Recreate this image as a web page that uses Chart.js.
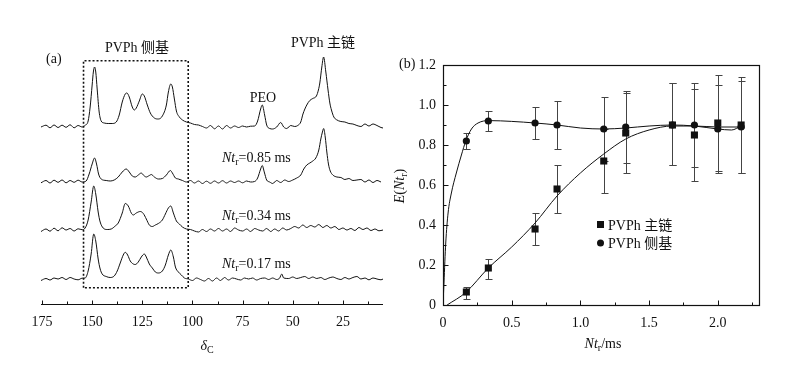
<!DOCTYPE html>
<html>
<head>
<meta charset="utf-8">
<script src="https://cdn.jsdelivr.net/npm/chart.js@4.4.0/dist/chart.umd.min.js"></script>
<style>
  html, body { margin: 0; padding: 0; background: #fff; }
  #wrap { position: relative; width: 804px; height: 373px; overflow: hidden; }
  #specChart { position: absolute; left: 0; top: 0; }
  #effChart { position: absolute; left: 390px; top: 0; }
</style>
</head>
<body>
<div id="wrap">
  <canvas id="specChart" width="390" height="373"></canvas>
  <canvas id="effChart" width="414" height="373"></canvas>
</div>
<script>
// ---- panel (a): 13C spectra, [ppm, intensity above baseline] ----
const specFull = [
  [175.5,0],[173,1.8],[171,-0.8],[169,2],[167,-0.5],[165,1.8],[163,-0.3],[161,2.2],[159,-0.8],[157,1.5],[155,0],
  [153.5,1.7],[152,6],[151,20],[150,42],[149.4,55],[148.8,60],[148.2,55],[147.5,38],[146.5,15],[145.5,6],[144,4],
  [142,3.5],[140,3.5],[138,5],[136.5,12],[135,25],[133.5,33],[132.7,34],[131.5,30],[130,20],[129,17],[128,19],
  [126.5,26],[125,33],[124,31],[122.5,22],[121,14],[119,9],[117,8],[115,11],[113,22],[112,35],[110.8,43],[110,40],
  [109,28],[108,16],[106.5,10],[105,7],[103,5],[101,4],[99,2.5],[97,2],[95,0.5],[93,-1],[91,1.5],[89,-1.8],
  [87,1],[85,-2],[83,1.5],[81,-1],[79,1],[77,-0.5],[75,1],[73,0],[71,0.8],[69,1],[67.5,6],[66,18],
  [65.2,22],[64,12],[63,2],[61.5,-1.5],[60,-2],[58,0],[56,4.5],[54.5,0],[53,-1.5],[51,1.5],[49,0.5],[47.5,1.5],[46,5],
  [44.9,13],[43,22],[41.5,26.5],[40,28.5],[38.2,31],[37.2,37],[36.5,44],[35.5,60],[34.6,70],[33.5,55],[32.4,37],
  [31.5,24],[30.7,17],[29.5,10],[28.2,7.3],[26,5.5],[24,5],[22,3.5],[20,3],[18,1.5],[16,0.5],[14,3],[12,1],
  [10,3],[8,1.5],[6,-0.5],[5,-1]
];
const spec085 = [
  [175.5,-0.8],[173,1.5],[171,-1],[169,1.8],[167,-0.3],[165,2],[163,-0.8],[161,1.5],[159,-0.3],[157,1.8],[155,0],
  [153,1],[151.5,8],[150,18],[148.8,24],[147.8,18],[146.8,8],[145.5,3],[143,1.5],[141,1],[139,2],[137,5],
  [135,10],[133,13],[131.5,10],[130,6],[128.5,5],[127,7],[125.5,9],[124.5,7],[123,5],[121.5,6.5],[120.5,7.5],
  [119,5],[117,3],[115,3.5],[113,7],[111,11.5],[110,9],[108.5,4],[107,3],[105,1.5],[103,0],[101,1.5],[99,-1],
  [97,1],[95,-1.5],[93,0.8],[91,-1.3],[89,1],[87,-1],[85,1.3],[83,-1],[81,1],[79,-0.5],[77,1],[75,-0.8],
  [73,1],[71,0],[69,0.5],[67.5,4],[66,13],[65.2,16.5],[64.2,10],[63,2],[61.5,0],[60,-1.5],[58,1.5],[56,-0.5],
  [54,2],[52,0.5],[50,2],[48,4],[46,7],[44.5,13],[43,17],[41.5,19],[40,21],[38.5,24],[37,32],[36,43],
  [35.2,50],[34.6,53.5],[33.8,45],[33,30],[32.2,18],[31.3,11],[30,7],[28,5],[26,4.5],[24,2.5],[22,3.5],[20,1.5],
  [18,2],[16,2.5],[14,0],[12,2],[10,-0.5],[8,1.5],[6,0]
];
const spec034 = [
  [175.5,-1.5],[173,1],[171,-1.2],[169,1.8],[167,-0.8],[165,2.2],[163,0],[161,1.5],[159,-1],[157,1.2],[155,0.3],
  [153.5,2],[152,10],[150.5,28],[149.2,44],[148.2,36],[147,18],[146,8],[144.5,2],[142.5,0.5],[140.5,1],
  [138.5,4],[137,7],[135,17],[133.5,26.5],[132,24],[130.5,17],[129.5,15],[128,17],[126,18.5],[124.5,16.5],
  [123,11],[121.5,5],[120,3.5],[118.5,5],[117,6.5],[115,10],[113.5,16],[112,22],[110.8,24],[109.5,17],[108,9],
  [106.5,6],[105,3],[103,1],[101,0.5],[99,-1],[97,-2],[95,0.5],[93,-1.5],[91,1],[89,-1],[87,1.5],[85,-1],
  [83,1],[81,-1.5],[79,2],[77,0],[75,-1],[73,1],[71,-1.5],[69,1.5],[67,0],[65,-1],[63,1.5],[61,-1.5],[59,1],
  [57,-1],[55,2],[53,0],[51,1.5],[49,3.5],[47,2],[45,5],[43,2.5],[41,4.5],[39,3],[37,5.5],[35,2.5],[33,4.5],[31,2],
  [29,3.5],[27,0.5],[25,2],[23,0],[21,1.5],[19,-0.5],[17,2.5],[15,0.5],[13,2],[11,-0.5],[9,1],[7,-0.8],[5,0]
];
const spec017 = [
  [175.5,-1.5],[173,0.5],[171,-1],[169,1],[167,0],[165,1.5],[163,-0.5],[161,1.5],[159,0],[157,-0.8],[155,0.8],
  [153.5,1],[152,8],[150.5,25],[149.2,45],[148.2,38],[147,20],[146,10],[145,5],[143,2.5],[141,1.5],[139,3],
  [137.5,8],[136,16],[134.5,24],[133.5,26.7],[132.3,24],[131,18],[129.5,15],[128.5,14.5],[127,17],[125.5,22],
  [124,25],[123,22],[121.5,15],[120,11],[118.5,7],[117,6],[115,8],[113.5,14],[112,24],[110.8,29],[109.5,22],
  [108.5,12],[107,7],[105.5,4],[104,1],[102,0],[100,-1.5],[98,1],[96,-0.5],[94,-2],[92,0.5],[90,-2],
  [88,1],[86,-1.5],[84,1.5],[82,-1],[80,1],[78,0],[76,-1],[74,1],[72,0],[70,1],[68,-1],[66,0.5],
  [64,1],[62,-0.5],[60,1],[58,-0.5],[56.5,1],[55.5,5],[54.5,1],[52,0.5],[50,2],[48,0.5],[46,1.5],[44,2.5],
  [42,0.5],[40,2],[38,0.5],[36,1.5],[34,-0.5],[32,1],[30,2],[28,0.5],[26,-0.5],[24,1.5],[22,0],[20,1.5],
  [18,2.5],[16,0],[14,1],[12,-0.8],[10,1],[8,0],[6,-0.8],[5,0]
];
const specTraces = [specFull, spec085, spec034, spec017];
const traceOffsets = [177, 122, 74, 25];
const ppmTicks = [175, 150, 125, 100, 75, 50, 25];
const ppmMinor = [162.5, 137.5, 112.5, 87.5, 62.5, 37.5, 12.5];
const boxPpm = [154.3, 102.1];
const boxLevels = [16.3, 243.3];

// ---- panel (b): E(Ntr) ----
const ntr = [0.17, 0.33, 0.67, 0.83, 1.17, 1.33, 1.67, 1.83, 2.0, 2.17];
const mainE = [0.065, 0.185, 0.38, 0.58, 0.72, 0.86, 0.90, 0.85, 0.91, 0.90];
const mainLo = [0.03, 0.13, 0.30, 0.46, 0.56, 0.66, 0.70, 0.62, 0.67, 0.66];
const mainHi = [0.09, 0.23, 0.46, 0.70, 0.88, 1.06, 1.11, 1.08, 1.15, 1.14];
const sideE = [0.82, 0.92, 0.91, 0.90, 0.88, 0.89, 0.90, 0.90, 0.88, 0.89];
const sideLo = [0.78, 0.87, 0.83, 0.78, 0.72, 0.71, 0.70, 0.69, 0.66, 0.66];
const sideHi = [0.86, 0.97, 0.99, 1.02, 1.04, 1.07, 1.11, 1.11, 1.10, 1.12];
const mainFitX = [0.03, 0.166, 0.33, 0.5, 0.67, 0.83, 1.0, 1.17, 1.33, 1.5, 1.67, 1.83, 2.0, 2.17];
const mainFitY = [0, 0.063, 0.185, 0.29, 0.41, 0.545, 0.66, 0.755, 0.83, 0.875, 0.895, 0.895, 0.89, 0.89];
const sideFitX = [0, 0.007, 0.02, 0.037, 0.061, 0.097, 0.134, 0.166, 0.207, 0.255, 0.335, 0.5, 0.67, 0.83, 1.0, 1.17, 1.33, 1.5, 1.67, 1.83, 2.0, 2.1, 2.17];
const sideFitY = [0, 0.11, 0.31, 0.46, 0.56, 0.66, 0.75, 0.82, 0.88, 0.91, 0.922, 0.918, 0.91, 0.90, 0.885, 0.88, 0.885, 0.895, 0.90, 0.895, 0.88, 0.875, 0.895];
const effXTicks = [0, 0.5, 1.0, 1.5, 2.0];
const effXMinor = [0.25, 0.75, 1.25, 1.75, 2.25];
const effYTicks = [0, 0.2, 0.4, 0.6, 0.8, 1.0, 1.2];
const effYMinor = [0.1, 0.3, 0.5, 0.7, 0.9, 1.1];

const serif = '"Liberation Serif", "Times New Roman", "Noto Sans CJK SC", serif';
Chart.defaults.font.family = serif;
Chart.defaults.font.size = 14;
Chart.defaults.color = '#111';

// draws text made of parts, some italic or subscript
function richText(ctx, parts, x, y, align) {
  const fontOf = p => (p.italic ? 'italic ' : '') + (p.sub ? '10px ' : '14px ') + serif;
  let w = 0;
  parts.forEach(p => { ctx.font = fontOf(p); w += ctx.measureText(p.t).width; });
  let cx = align === 'center' ? x - w / 2 : x;
  ctx.textAlign = 'left';
  ctx.textBaseline = 'alphabetic';
  parts.forEach(p => {
    ctx.font = fontOf(p);
    ctx.fillText(p.t, cx, y + (p.sub ? 3 : 0));
    cx += ctx.measureText(p.t).width;
  });
}

const ntLabel = ms => [{ t: 'Nt', italic: true }, { t: 'r', sub: true }, { t: '=' + ms + ' ms' }];

const specDecor = {
  id: 'specDecor',
  afterDraw(chart) {
    const { ctx, chartArea: a, scales: { x } } = chart;
    ctx.save();
    ctx.strokeStyle = '#111';
    ctx.lineWidth = 1;
    const by = Math.round(a.bottom) + 0.5;
    ctx.beginPath();
    ctx.moveTo(a.left, by); ctx.lineTo(a.right, by);
    ppmTicks.forEach(v => { const p = Math.round(x.getPixelForValue(v)) + 0.5; ctx.moveTo(p, by); ctx.lineTo(p, by - 4); });
    ppmMinor.forEach(v => { const p = Math.round(x.getPixelForValue(v)) + 0.5; ctx.moveTo(p, by); ctx.lineTo(p, by - 3); });
    ctx.stroke();
    ctx.fillStyle = '#111';
    richText(ctx, [{ t: '(a)' }], 46, 63, 'left');
    richText(ctx, [{ t: 'PVPh 侧基' }], 137, 52, 'center');
    richText(ctx, [{ t: 'PVPh 主链' }], 323, 47, 'center');
    richText(ctx, [{ t: 'PEO' }], 263, 102, 'center');
    richText(ctx, ntLabel('0.85'), 222, 162, 'left');
    richText(ctx, ntLabel('0.34'), 222, 220, 'left');
    richText(ctx, ntLabel('0.17'), 222, 268, 'left');
    richText(ctx, [{ t: 'δ', italic: true }, { t: 'C', sub: true }], 207, 350, 'center');
    ctx.restore();
  }
};

const specDatasets = specTraces.map((tr, i) => ({
  data: tr.map(p => ({ x: p[0], y: p[1] + traceOffsets[i] })),
  borderColor: '#111',
  borderWidth: 1,
  pointRadius: 0,
  cubicInterpolationMode: 'monotone'
}));
specDatasets.push({
  data: [
    { x: boxPpm[0], y: boxLevels[0] }, { x: boxPpm[0], y: boxLevels[1] },
    { x: boxPpm[1], y: boxLevels[1] }, { x: boxPpm[1], y: boxLevels[0] },
    { x: boxPpm[0], y: boxLevels[0] }
  ],
  borderColor: '#111',
  borderWidth: 1.6,
  borderDash: [2, 2],
  pointRadius: 0,
  tension: 0
});

new Chart(document.getElementById('specChart'), {
  type: 'line',
  data: { datasets: specDatasets },
  options: {
    responsive: false,
    animation: false,
    devicePixelRatio: 1,
    layout: { padding: { left: 41, right: 7, top: 40, bottom: 0 } },
    plugins: { legend: { display: false }, tooltip: { enabled: false } },
    scales: {
      x: {
        type: 'linear', reverse: true, min: 5, max: 175.5,
        afterBuildTicks: s => { s.ticks = ppmTicks.map(v => ({ value: v })); },
        afterFit: s => { s.height = 69; },
        grid: { display: false, drawTicks: false },
        border: { display: false },
        ticks: { padding: 10, maxRotation: 0, autoSkip: false, color: '#111', font: { size: 14 } }
      },
      y: { display: false, min: 0, max: 264 }
    }
  },
  plugins: [specDecor]
});

// ---- panel (b) chart ----
function errBars(chart, xs, lo, hi) {
  const { ctx, scales: { x, y } } = chart;
  ctx.save();
  ctx.strokeStyle = '#444';
  ctx.lineWidth = 1;
  ctx.beginPath();
  xs.forEach((v, i) => {
    const px = Math.round(x.getPixelForValue(v)) + 0.5;
    const y1 = Math.round(y.getPixelForValue(lo[i])) + 0.5;
    const y2 = Math.round(y.getPixelForValue(hi[i])) + 0.5;
    ctx.moveTo(px, y1); ctx.lineTo(px, y2);
    ctx.moveTo(px - 3, y1); ctx.lineTo(px + 4, y1);
    ctx.moveTo(px - 3, y2); ctx.lineTo(px + 4, y2);
  });
  ctx.stroke();
  ctx.restore();
}

const effDecor = {
  id: 'effDecor',
  beforeDatasetsDraw(chart) {
    errBars(chart, ntr, mainLo, mainHi);
    errBars(chart, ntr, sideLo, sideHi);
  },
  afterDraw(chart) {
    const { ctx, chartArea: a, scales: { x, y } } = chart;
    ctx.save();
    ctx.strokeStyle = '#111';
    ctx.lineWidth = 1.2;
    ctx.strokeRect(Math.round(a.left) + 0.5, Math.round(a.top) + 0.5, Math.round(a.right - a.left), Math.round(a.bottom - a.top));
    ctx.lineWidth = 1;
    ctx.beginPath();
    const bx = Math.round(a.bottom) + 0.5, lx = Math.round(a.left) + 0.5;
    effXTicks.forEach(v => { const p = Math.round(x.getPixelForValue(v)) + 0.5; ctx.moveTo(p, bx); ctx.lineTo(p, bx - 5); });
    effXMinor.forEach(v => { const p = Math.round(x.getPixelForValue(v)) + 0.5; ctx.moveTo(p, bx); ctx.lineTo(p, bx - 3); });
    effYTicks.forEach(v => { const p = Math.round(y.getPixelForValue(v)) + 0.5; ctx.moveTo(lx, p); ctx.lineTo(lx + 5, p); });
    effYMinor.forEach(v => { const p = Math.round(y.getPixelForValue(v)) + 0.5; ctx.moveTo(lx, p); ctx.lineTo(lx + 3, p); });
    ctx.stroke();

    // legend
    ctx.fillStyle = '#111';
    ctx.fillRect(207, 221, 7, 7);
    ctx.beginPath(); ctx.arc(210.5, 243, 3.5, 0, Math.PI * 2); ctx.fill();
    richText(ctx, [{ t: 'PVPh 主链' }], 218, 230, 'left');
    richText(ctx, [{ t: 'PVPh 侧基' }], 218, 248, 'left');

    richText(ctx, [{ t: '(b)' }], 9, 68, 'left');
    richText(ctx, [{ t: 'Nt', italic: true }, { t: 'r', sub: true }, { t: '/ms' }], 213, 348, 'center');
    ctx.translate(14, 186);
    ctx.rotate(-Math.PI / 2);
    richText(ctx, [{ t: 'E', italic: true }, { t: '(' }, { t: 'Nt', italic: true }, { t: 'r', sub: true }, { t: ')' }], 0, 0, 'center');
    ctx.restore();
  }
};

const xy = (xs, ys) => xs.map((v, i) => ({ x: v, y: ys[i] }));

new Chart(document.getElementById('effChart'), {
  type: 'line',
  data: {
    datasets: [
      { data: xy(ntr, mainE), showLine: false, pointStyle: 'rect', pointRadius: 5, backgroundColor: '#111', borderColor: '#111', borderWidth: 0 },
      { data: xy(ntr, sideE), showLine: false, pointStyle: 'circle', pointRadius: 3.6, backgroundColor: '#111', borderColor: '#111', borderWidth: 0 },
      { data: xy(mainFitX, mainFitY), borderColor: '#111', borderWidth: 1, pointRadius: 0, cubicInterpolationMode: 'monotone' },
      { data: xy(sideFitX, sideFitY), borderColor: '#111', borderWidth: 1, pointRadius: 0, cubicInterpolationMode: 'monotone' }
    ]
  },
  options: {
    responsive: false,
    animation: false,
    devicePixelRatio: 1,
    layout: { padding: { left: 0, right: 45, top: 65, bottom: 0 } },
    plugins: { legend: { display: false }, tooltip: { enabled: false } },
    scales: {
      x: {
        type: 'linear', min: 0, max: 2.3,
        afterBuildTicks: s => { s.ticks = effXTicks.map(v => ({ value: v })); },
        afterFit: s => { s.height = 68; },
        grid: { display: false, drawTicks: false },
        border: { display: false },
        ticks: { padding: 10, maxRotation: 0, autoSkip: false, color: '#111', font: { size: 14 },
          callback: v => v === 0 ? '0' : v.toFixed(1) }
      },
      y: {
        type: 'linear', min: 0, max: 1.2,
        afterBuildTicks: s => { s.ticks = effYTicks.map(v => ({ value: v })); },
        afterFit: s => { s.width = 53; },
        grid: { display: false, drawTicks: false },
        border: { display: false },
        ticks: { padding: 7, autoSkip: false, color: '#111', font: { size: 14 },
          callback: v => v === 0 ? '0' : v.toFixed(1) }
      }
    }
  },
  plugins: [effDecor]
});
</script>
</body>
</html>
